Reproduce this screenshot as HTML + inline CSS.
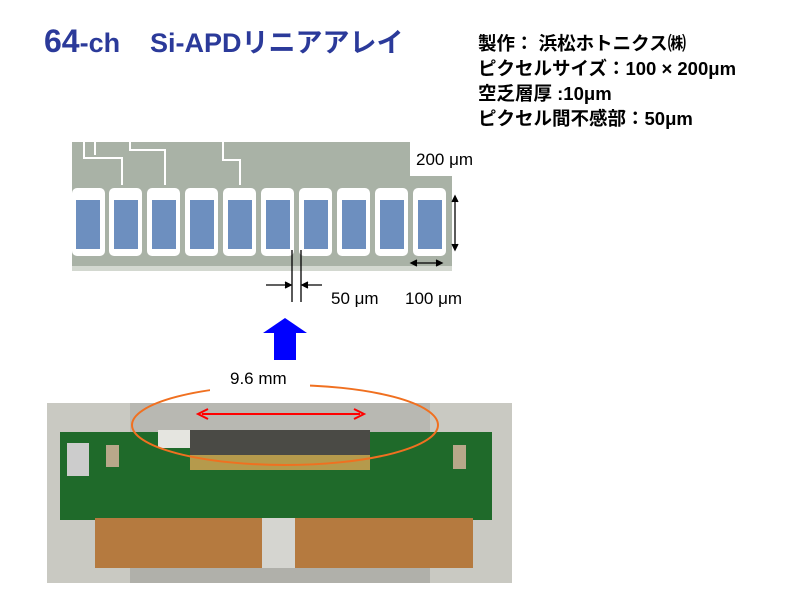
<!DOCTYPE html>
<html><head><meta charset="utf-8"><style>
body{margin:0;background:#fff;width:800px;height:600px;overflow:hidden;font-family:"Liberation Sans","Noto Sans CJK JP",sans-serif}
</style></head><body>
<svg width="800" height="600" xmlns="http://www.w3.org/2000/svg" style="position:absolute;left:0;top:0">
<text x="44" y="52" font-size="32" font-weight="bold" fill="#2b3a9a" font-family="Liberation Sans,Noto Sans CJK JP,sans-serif">64<tspan font-size="27">-ch</tspan></text>
<text x="150" y="52" font-size="27" font-weight="bold" fill="#2b3a9a" font-family="Liberation Sans,Noto Sans CJK JP,sans-serif">Si-APDリニアアレイ</text>
<g font-size="18.5" font-weight="bold" fill="#000" font-family="Liberation Sans,Noto Sans CJK JP,sans-serif">
<text x="478" y="50">製作： 浜松ホトニクス㈱</text>
<text x="478" y="75">ピクセルサイズ：100 × 200μm</text>
<text x="478" y="100">空乏層厚 :10μm</text>
<text x="478" y="125">ピクセル間不感部：50μm</text>
</g>
<rect x="72" y="142" width="380" height="126" fill="#a9b2a6"/>
<rect x="72" y="266" width="380" height="5" fill="#d3d8d0"/>
<g fill="none" stroke="#fff" stroke-width="2">
<path d="M84 142 V158 H122 V185"/><path d="M130 142 V150 H165 V185"/><path d="M223 142 V160 H240 V185"/><path d="M95 142 V155"/>
</g>
<g fill="#fff">
<rect x="72" y="188" width="33" height="68" rx="5"/><rect x="109" y="188" width="33" height="68" rx="5"/><rect x="147" y="188" width="33" height="68" rx="5"/><rect x="185" y="188" width="33" height="68" rx="5"/><rect x="223" y="188" width="33" height="68" rx="5"/><rect x="261" y="188" width="33" height="68" rx="5"/><rect x="299" y="188" width="33" height="68" rx="5"/><rect x="337" y="188" width="33" height="68" rx="5"/><rect x="375" y="188" width="33" height="68" rx="5"/><rect x="413" y="188" width="33" height="68" rx="5"/>
</g>
<g fill="#6d8fbf">
<rect x="76" y="200" width="24" height="49"/><rect x="114" y="200" width="24" height="49"/><rect x="152" y="200" width="24" height="49"/><rect x="190" y="200" width="24" height="49"/><rect x="228" y="200" width="24" height="49"/><rect x="266" y="200" width="24" height="49"/><rect x="304" y="200" width="24" height="49"/><rect x="342" y="200" width="24" height="49"/><rect x="380" y="200" width="24" height="49"/><rect x="418" y="200" width="24" height="49"/>
</g>
<rect x="410" y="142" width="90" height="34" fill="#fff"/>
<text x="416" y="165" font-size="17" fill="#000">200 μm</text>
<g stroke="#000" stroke-width="1.3" fill="none">
<line x1="455" y1="198" x2="455" y2="248"/><path d="M452 202 L455 196 L458 202 M452 244 L455 250 L458 244" fill="#000"/>
<line x1="413" y1="263" x2="440" y2="263"/><path d="M417 260 L411 263 L417 266 M436 260 L442 263 L436 266" fill="#000"/>
<line x1="292" y1="250" x2="292" y2="302"/><line x1="301" y1="250" x2="301" y2="302"/>
<line x1="266" y1="285" x2="290" y2="285"/><path d="M285 282 L291 285 L285 288" fill="#000"/>
<line x1="303" y1="285" x2="322" y2="285"/><path d="M308 282 L302 285 L308 288" fill="#000"/>
</g>
<text x="331" y="304" font-size="17" fill="#000">50 μm</text>
<text x="405" y="304" font-size="17" fill="#000">100 μm</text>
<polygon points="263,333 285,318 307,333 296,333 296,360 274,360 274,333" fill="#0000ff"/>
<rect x="47" y="403" width="465" height="180" fill="#c9c9c2"/>
<rect x="130" y="403" width="300" height="30" fill="#b8b8b2"/>
<rect x="60" y="432" width="432" height="88" fill="#1f6a2a"/>
<rect x="158" y="430" width="50" height="18" fill="#e5e5e0"/>
<rect x="190" y="430" width="180" height="30" fill="#4a4a45"/>
<rect x="190" y="455" width="180" height="15" fill="#b59a4c"/>
<rect x="67" y="443" width="22" height="33" fill="#ccc"/><rect x="106" y="445" width="13" height="22" fill="#b8a88a"/><rect x="453" y="445" width="13" height="24" fill="#b8a88a"/>
<rect x="95" y="518" width="167" height="50" fill="#b57a3f"/>
<rect x="295" y="518" width="178" height="50" fill="#b57a3f"/>
<rect x="262" y="518" width="33" height="65" fill="#d5d5d0"/>
<rect x="130" y="568" width="300" height="15" fill="#b0b0aa"/>
<ellipse cx="285" cy="425" rx="153" ry="40" fill="none" stroke="#f07020" stroke-width="2"/>
<rect x="210" y="368" width="100" height="24" fill="#fff"/>
<text x="230" y="384" font-size="17" fill="#000">9.6 mm</text>
<line x1="202" y1="414" x2="360" y2="414" stroke="#ff0000" stroke-width="2"/>
<path d="M208 409 L198 414 L208 419 M354 409 L364 414 L354 419" stroke="#ff0000" stroke-width="2" fill="none"/>
</svg>
</body></html>
